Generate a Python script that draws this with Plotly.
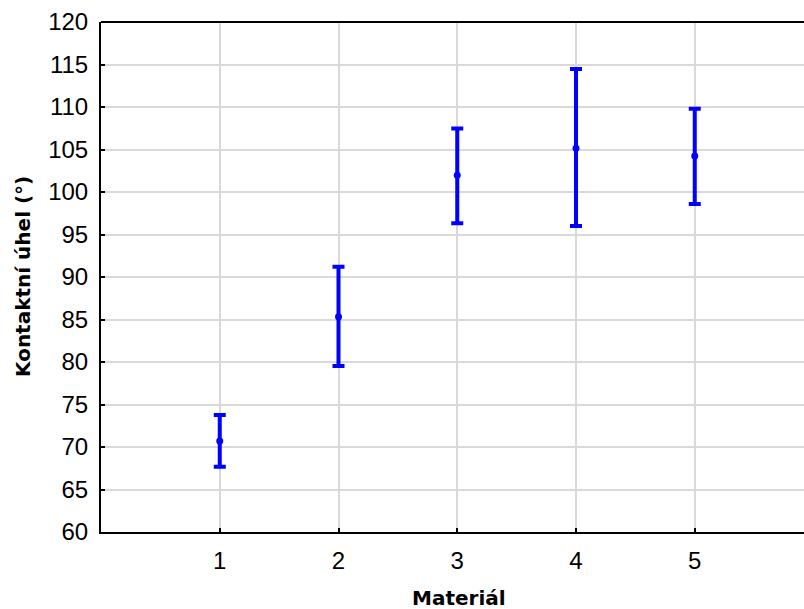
import plotly.graph_objects as go

materials = [1, 2, 3, 4, 5]
means = [70.72, 85.32, 101.98, 105.16, 104.25]
err_plus = [3.05, 5.88, 5.5, 9.3, 5.55]
err_minus = [3.05, 5.8, 5.65, 9.15, 5.65]
y_ticks = list(range(60, 121, 5))

L, R, T, B = 101, 0, 22, 77
W, H = 804, 609

fig = go.Figure()
fig.add_trace(go.Scatter(
    x=materials, y=means, mode="markers",
    marker=dict(color="#0000ff", size=7),
    error_y=dict(type="data", symmetric=False, array=err_plus, arrayminus=err_minus,
                 color="#0000ff", thickness=4, width=6),
    showlegend=False,
))

tickfont = dict(family="Liberation Sans, Arial, sans-serif", size=24, color="black")
titlefont = dict(family="DejaVu Sans, sans-serif", size=20, color="black")

fig.update_layout(
    width=W, height=H,
    margin=dict(l=L, r=R, t=T, b=B),
    plot_bgcolor="white", paper_bgcolor="white",
    xaxis=dict(range=[0, 5.92], tickvals=materials, ticks="inside", ticklen=4, tickwidth=2,
               tickcolor="black", showline=True, linecolor="black", linewidth=2,
               showgrid=True, gridcolor="#d9d9d9", gridwidth=1.5, zeroline=False,
               tickfont=tickfont, ticklabelstandoff=6),
    yaxis=dict(range=[60, 120], tickvals=y_ticks, ticks="inside", ticklen=4, tickwidth=2,
               tickcolor="black", showline=True, linecolor="black", linewidth=2,
               showgrid=True, gridcolor="#d9d9d9", gridwidth=1.5, zeroline=False,
               tickfont=tickfont, ticklabelstandoff=6),
    shapes=[dict(type="line", xref="paper", yref="paper", x0=0, x1=1, y0=1, y1=1,
                 line=dict(color="black", width=2))],
    annotations=[
        dict(text="<b>Materiál</b>", xref="paper", yref="paper",
             x=(459 - L) / (W - L - R), y=-(598 - (H - B)) / (H - T - B),
             xanchor="center", yanchor="middle", showarrow=False, font=titlefont),
        dict(text="<b>Kontaktní úhel (°)</b>", xref="paper", yref="paper",
             x=-(L - 23) / (W - L - R), y=0.5, textangle=-90,
             xanchor="center", yanchor="middle", showarrow=False, font=titlefont),
    ],
)

fig.write_html("out.html")
